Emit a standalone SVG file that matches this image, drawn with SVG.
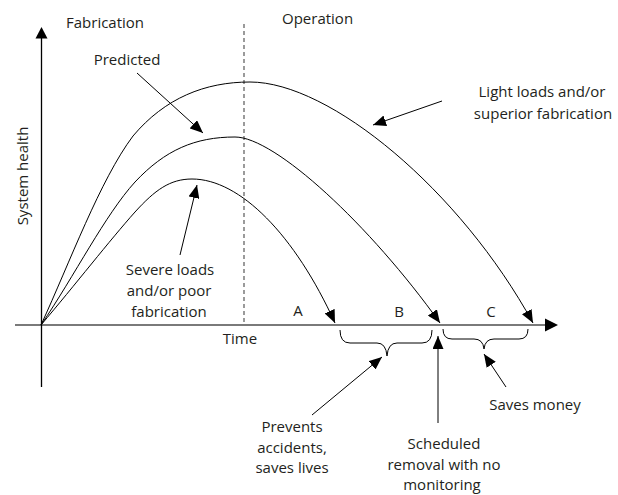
<svg xmlns="http://www.w3.org/2000/svg" width="618" height="495" viewBox="0 0 618 495">
  <style>
    .lbl { font-family: "Open Sans", "Noto Sans", "Liberation Sans", sans-serif; font-size: 15px; fill: #231f20; }
    .mid { text-anchor: middle; }
    .curve { fill: none; stroke: #000; stroke-width: 1; }
    .lead { fill: none; stroke: #000; stroke-width: 1; }
    .brace { fill: none; stroke: #000; stroke-width: 1; }
  </style>
  <defs>
    <marker id="arrow" viewBox="0 0 13 11" refX="13" refY="5.5" markerWidth="13" markerHeight="11" markerUnits="userSpaceOnUse" orient="auto">
      <path d="M0,0 L13,5.5 L0,11 z" fill="#000"/>
    </marker>
  </defs>

  <rect width="618" height="495" fill="#fff"/>

  <!-- axes and phase divider -->
  <g id="axes">
    <line x1="15" y1="325" x2="547" y2="325" stroke="#7a7a7a" stroke-width="2"/>
    <polygon points="558,325 545,318.5 545,331.5" fill="#000"/>
    <line x1="41.5" y1="387" x2="41.5" y2="37" stroke="#000" stroke-width="1.3"/>
    <polygon points="41.5,27 35.5,38.5 47.5,38.5" fill="#000"/>
    <line x1="244" y1="24" x2="244" y2="325" stroke="#666" stroke-width="1.3" stroke-dasharray="4 3"/>
  </g>

  <!-- health curves -->
  <g id="curve-light">
    <path class="curve" d="M41,325 C70,262 100,180 133,136 C165,98 205,82 250,82 C330,82 460,190 533,323" marker-end="url(#arrow)"/>
  </g>
  <g id="curve-predicted">
    <path class="curve" d="M41,325 C75,275 105,215 135,182 C165,150 195,137 235,137 C275,137 370,225 440,323" marker-end="url(#arrow)"/>
  </g>
  <g id="curve-severe">
    <path class="curve" d="M41,325 C75,285 110,240 135,212 C155,190 170,179 192,179 C240,179 295,235 335,323" marker-end="url(#arrow)"/>
  </g>

  <!-- braces under the time axis -->
  <g id="brace-b">
    <path class="brace" d="M340,330 Q340,343 350,343 L377,343 Q386,343 387,356 Q388,343 397,343 L422,343 Q432,343 432,330"/>
  </g>
  <g id="brace-c">
    <path class="brace" d="M443,329 Q443,339 452,339 L474,339 Q483,339 484,349 Q485,339 494,339 L519,339 Q528,339 528,329"/>
  </g>

  <!-- leader arrows -->
  <g id="connectors">
    <line class="lead" x1="137" y1="73" x2="203" y2="133" marker-end="url(#arrow)"/>
    <line class="lead" x1="180" y1="255" x2="197" y2="185" marker-end="url(#arrow)"/>
    <line class="lead" x1="442" y1="101" x2="373" y2="125" marker-end="url(#arrow)"/>
    <line class="lead" x1="312" y1="415" x2="382" y2="357" marker-end="url(#arrow)"/>
    <line class="lead" x1="438" y1="423" x2="438" y2="336" marker-end="url(#arrow)"/>
    <line class="lead" x1="506" y1="387" x2="484" y2="354" marker-end="url(#arrow)"/>
  </g>

  <!-- labels -->
  <g id="label-fabrication"><text class="lbl" x="66" y="28">Fabrication</text></g>
  <g id="label-operation"><text class="lbl" x="282" y="23.5">Operation</text></g>
  <g id="label-predicted"><text class="lbl mid" x="127" y="65">Predicted</text></g>
  <g id="label-light">
    <text class="lbl mid" x="542" y="96.5">Light loads and/or</text>
    <text class="lbl mid" x="543" y="118.5">superior fabrication</text>
  </g>
  <g id="label-health"><text class="lbl mid" transform="translate(28,176) rotate(-90)">System health</text></g>
  <g id="label-severe">
    <text class="lbl mid" x="170" y="275">Severe loads</text>
    <text class="lbl mid" x="169" y="296">and/or poor</text>
    <text class="lbl mid" x="169" y="317">fabrication</text>
  </g>
  <g id="label-time"><text class="lbl mid" x="240" y="344">Time</text></g>
  <g id="label-a"><text class="lbl mid" x="298" y="316">A</text></g>
  <g id="label-b"><text class="lbl mid" x="399" y="317">B</text></g>
  <g id="label-c"><text class="lbl mid" x="491" y="317">C</text></g>
  <g id="label-prevents">
    <text class="lbl mid" x="292" y="432">Prevents</text>
    <text class="lbl mid" x="292" y="452.5">accidents,</text>
    <text class="lbl mid" x="292" y="473">saves lives</text>
  </g>
  <g id="label-scheduled">
    <text class="lbl mid" x="444" y="449">Scheduled</text>
    <text class="lbl mid" x="444" y="469.5">removal with no</text>
    <text class="lbl mid" x="442" y="490">monitoring</text>
  </g>
  <g id="label-saves"><text class="lbl mid" x="535" y="410">Saves money</text></g>
</svg>
